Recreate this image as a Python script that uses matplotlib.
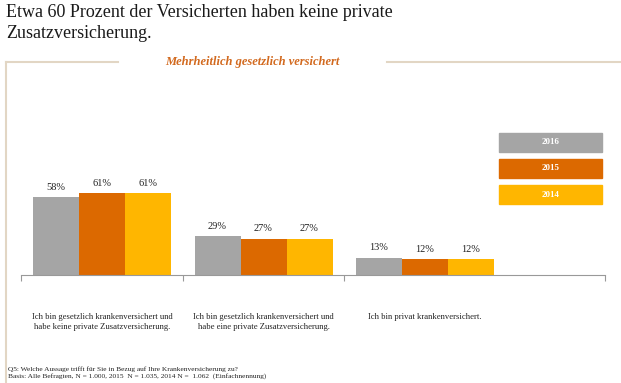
import matplotlib.pyplot as plt
from matplotlib.lines import Line2D
from matplotlib.patches import Rectangle

plt.rcParams["font.family"] = ["Liberation Serif", "DejaVu Serif"]

categories = [
    "Ich bin gesetzlich krankenversichert und\nhabe keine private Zusatzversicherung.",
    "Ich bin gesetzlich krankenversichert und\nhabe eine private Zusatzversicherung.",
    "Ich bin privat krankenversichert.",
]
years = ["2016", "2015", "2014"]
values_2016 = [58, 29, 13]
values_2015 = [61, 27, 12]
values_2014 = [61, 27, 12]
colors = ["#a5a5a5", "#dc6900", "#ffb600"]

W, H = 621, 383
fig = plt.figure(figsize=(W / 100, H / 100), dpi=100)


def fx(px):
    return px / W


def fy(py):
    return 1 - py / H


# title
fig.text(fx(6), fy(4), "Etwa 60 Prozent der Versicherten haben keine private\nZusatzversicherung.",
         fontsize=13.0, va="top", ha="left", color="#1a1a1a", linespacing=1.28)

# frame lines
frame_col = "#e2d6c4"
fig.add_artist(Line2D([fx(6), fx(6)], [fy(62), fy(383)], color=frame_col, lw=1.5))
fig.add_artist(Line2D([fx(6), fx(118)], [fy(62), fy(62)], color=frame_col, lw=1.5))
fig.add_artist(Line2D([fx(387), fx(621)], [fy(62), fy(62)], color=frame_col, lw=1.5))
fig.text(fx(252), fy(62), "Mehrheitlich gesetzlich versichert", fontsize=9.0,
         style="italic", weight="bold", color="#d2691e", ha="center", va="center")

# axes
spacing = 161.5
c0 = 102
x_left = (21 - c0) / spacing
x_right = (605 - c0) / spacing
ax = fig.add_axes([fx(21), fy(275), fx(605) - fx(21), 134 / H])
ax.set_xlim(x_left, x_right)
ax.set_ylim(0, 100)

width = 46 / spacing
series = [values_2016, values_2015, values_2014]
for i, (vals, col) in enumerate(zip(series, colors)):
    xs = [g + (i - 1) * width for g in range(len(categories))]
    ax.bar(xs, vals, width=width, color=col)
    for x, v in zip(xs, vals):
        ax.text(x, v + 4, f"{v}%", ha="center", va="bottom", fontsize=7.5, color="#222222")

for s in ["top", "right", "left"]:
    ax.spines[s].set_visible(False)
ax.spines["bottom"].set_color("#999999")
ax.spines["bottom"].set_linewidth(0.8)
ax.set_yticks([])
ax.set_xticks([x_left, 0.5, 1.5, x_right])
ax.set_xticklabels([])
ax.tick_params(axis="x", direction="out", length=4, color="#999999", width=0.8)

for g, cat in enumerate(categories):
    ax.text(g, -28.5, cat, ha="center", va="top", fontsize=6.2, color="#222222",
            linespacing=1.3)

# legend boxes
leg_tops = [133, 159, 185]
for yr, col, top in zip(years, colors, leg_tops):
    fig.add_artist(Rectangle((fx(499), fy(top + 19)), fx(602) - fx(499), 19 / H,
                             color=col, transform=fig.transFigure))
    fig.text(fx(550.5), fy(top + 9.5), yr, fontsize=6.5, weight="bold", color="white",
             ha="center", va="center")

# footnote
fig.text(fx(8), fy(373), "Q5: Welche Aussage trifft für Sie in Bezug auf Ihre Krankenversicherung zu?\n"
         "Basis: Alle Befragten, N = 1.000, 2015  N = 1.035, 2014 N =  1.062  (Einfachnennung)",
         fontsize=5.3, va="center", ha="left", color="#222222", linespacing=1.2)

fig.savefig("out.png", dpi=100)
